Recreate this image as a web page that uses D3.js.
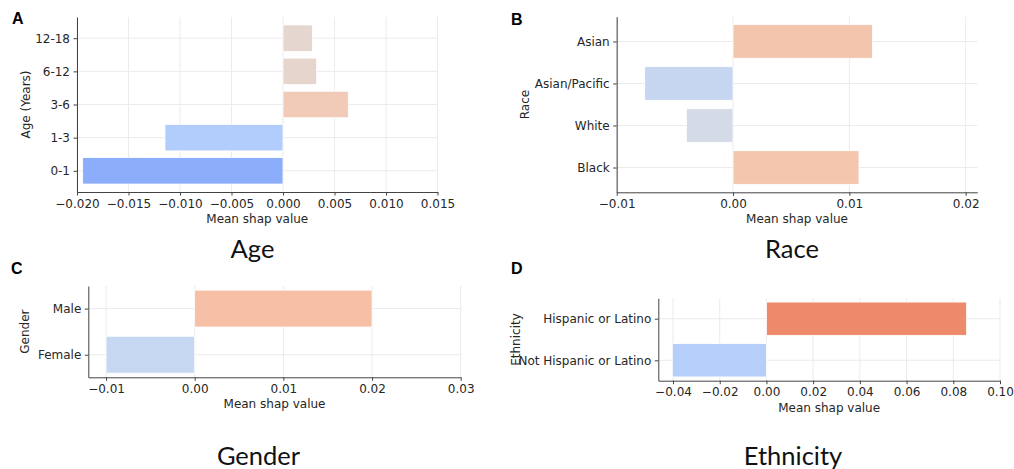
<!DOCTYPE html>
<html>
<head>
<meta charset="utf-8">
<script src="https://cdn.jsdelivr.net/npm/d3@7"></script>
<style>
  html, body { margin: 0; padding: 0; background: #fff; }
  svg { display: block; }
  .tick text { font-family: "DejaVu Sans", sans-serif; font-size: 12px; fill: #262626; }
  .axis-label { font-family: "DejaVu Sans", sans-serif; font-size: 12px; fill: #262626; }
  .panel-title { font-family: Lato, "Noto Sans", sans-serif; font-size: 25.5px; fill: #111; }
  .panel-letter { font-family: "Liberation Sans", Arial, sans-serif; font-weight: bold; font-size: 16px; fill: #000; }
</style>
</head>
<body>
<svg id="chart" width="1014" height="469"></svg>
<script>
// Mean SHAP values per demographic feature (categories listed bottom to top)
const ageCategories = ["0-1", "1-3", "3-6", "6-12", "12-18"];
const ageValues = [-0.01945, -0.01146, 0.00634, 0.00327, 0.00285];
const ageColors = ["#8badfa", "#b2ccfb", "#f1cbb7", "#e6d5cc", "#e5d6d0"];
const ageTicks = [-0.020, -0.015, -0.010, -0.005, 0.000, 0.005, 0.010, 0.015];

const raceCategories = ["Black", "White", "Asian/Pacific", "Asian"];
const raceValues = [0.01083, -0.00401, -0.00759, 0.01199];
const raceColors = ["#f4c6ae", "#d4dbe7", "#c6d6f1", "#f4c5ad"];
const raceTicks = [-0.01, 0.00, 0.01, 0.02];

const genderCategories = ["Female", "Male"];
const genderValues = [-0.0100, 0.0200];
const genderColors = ["#c6d7f1", "#f6bfa6"];
const genderTicks = [-0.01, 0.00, 0.01, 0.02, 0.03];

const ethnicityCategories = ["Not Hispanic or Latino", "Hispanic or Latino"];
const ethnicityValues = [-0.0403, 0.0857];
const ethnicityColors = ["#b6cefa", "#ed8a6c"];
const ethnicityTicks = [-0.04, -0.02, 0.00, 0.02, 0.04, 0.06, 0.08, 0.10];

const svg = d3.select("#chart");

// Draw one horizontal bar panel in the given pixel box
function barPanel(opt) {
  const { box, xDomain, cats, vals, colors, ticks, fmt, yTitle, letter, title } = opt;
  const n = cats.length;
  const barH = 0.8;
  const margin = (n - 1 + barH) * 0.05;
  const x = d3.scaleLinear().domain(xDomain).range([box.left, box.right]);
  const y = d3.scaleLinear()
    .domain([-barH / 2 - margin, n - 1 + barH / 2 + margin])
    .range([box.bottom, box.top]);

  const g = svg.append("g");

  // grid lines
  g.append("g").selectAll("line").data(ticks).join("line")
    .attr("x1", d => x(d)).attr("x2", d => x(d))
    .attr("y1", box.top).attr("y2", box.bottom)
    .attr("stroke", "#ebebeb").attr("stroke-width", 1);
  g.append("g").selectAll("line").data(d3.range(n)).join("line")
    .attr("x1", box.left).attr("x2", box.right)
    .attr("y1", d => y(d)).attr("y2", d => y(d))
    .attr("stroke", "#ebebeb").attr("stroke-width", 1);

  // bars
  g.append("g").selectAll("rect").data(vals).join("rect")
    .attr("x", d => x(Math.min(0, d)))
    .attr("width", d => Math.abs(x(d) - x(0)))
    .attr("y", (d, i) => y(i + barH / 2))
    .attr("height", (d, i) => y(i - barH / 2) - y(i + barH / 2))
    .attr("fill", (d, i) => colors[i])
    .attr("stroke", "#fff").attr("stroke-width", 0.8);

  // bottom axis
  const xa = g.append("g").attr("transform", `translate(0,${box.bottom})`)
    .call(d3.axisBottom(x).tickValues(ticks).tickFormat(fmt).tickSize(3.5).tickPadding(3.5).tickSizeOuter(0));
  xa.select(".domain").attr("stroke", "#444").attr("stroke-width", 1);
  xa.selectAll(".tick line").attr("stroke", "#444");

  // left axis
  const ya = g.append("g").attr("transform", `translate(${box.left},0)`)
    .call(d3.axisLeft(y).tickValues(d3.range(n)).tickFormat(i => cats[i]).tickSize(3.5).tickPadding(3.5).tickSizeOuter(0));
  ya.select(".domain").attr("stroke", "#444").attr("stroke-width", 1);
  ya.selectAll(".tick line").attr("stroke", "#444");

  // axis titles
  g.append("text").attr("class", "axis-label")
    .attr("x", (box.left + box.right) / 2).attr("y", box.bottom + 31)
    .attr("text-anchor", "middle").text("Mean shap value");
  g.append("text").attr("class", "axis-label")
    .attr("transform", `translate(${opt.yTitleX},${(box.top + box.bottom) / 2}) rotate(-90)`)
    .attr("text-anchor", "middle").attr("dy", "0.35em").text(yTitle);

  // panel letter and caption
  g.append("text").attr("class", "panel-letter")
    .attr("x", opt.letterPos[0]).attr("y", opt.letterPos[1]).text(letter);
  g.append("text").attr("class", "panel-title")
    .attr("x", opt.titlePos[0]).attr("y", opt.titlePos[1])
    .attr("text-anchor", "middle").text(title);
}

const minus = s => s.replace("-", "\u2212");

barPanel({
  box: { left: 77, right: 437.5, top: 17, bottom: 192 },
  xDomain: [-0.020, 0.015],
  cats: ageCategories, vals: ageValues, colors: ageColors, ticks: ageTicks,
  fmt: d => minus(d3.format(".3f")(d)),
  yTitle: "Age (Years)", yTitleX: 26,
  letter: "A", letterPos: [12, 24],
  title: "Age", titlePos: [252.5, 258]
});

barPanel({
  box: { left: 616.7, right: 977.3, top: 16.7, bottom: 192.3 },
  xDomain: [-0.01, 0.0210],
  cats: raceCategories, vals: raceValues, colors: raceColors, ticks: raceTicks,
  fmt: d => minus(d3.format(".2f")(d)),
  yTitle: "Race", yTitleX: 525,
  letter: "B", letterPos: [511, 25],
  title: "Race", titlePos: [792, 258]
});

barPanel({
  box: { left: 88.3, right: 460.7, top: 286, bottom: 377.3 },
  xDomain: [-0.012, 0.030],
  cats: genderCategories, vals: genderValues, colors: genderColors, ticks: genderTicks,
  fmt: d => minus(d3.format(".2f")(d)),
  yTitle: "Gender", yTitleX: 25,
  letter: "C", letterPos: [11, 274],
  title: "Gender", titlePos: [258.5, 465]
});

barPanel({
  box: { left: 658.3, right: 1000, top: 298.3, bottom: 380.7 },
  xDomain: [-0.0463, 0.10],
  cats: ethnicityCategories, vals: ethnicityValues, colors: ethnicityColors, ticks: ethnicityTicks,
  fmt: d => minus(d3.format(".2f")(d)),
  yTitle: "Ethnicity", yTitleX: 516,
  letter: "D", letterPos: [511, 274],
  title: "Ethnicity", titlePos: [793, 465]
});
</script>
</body>
</html>
